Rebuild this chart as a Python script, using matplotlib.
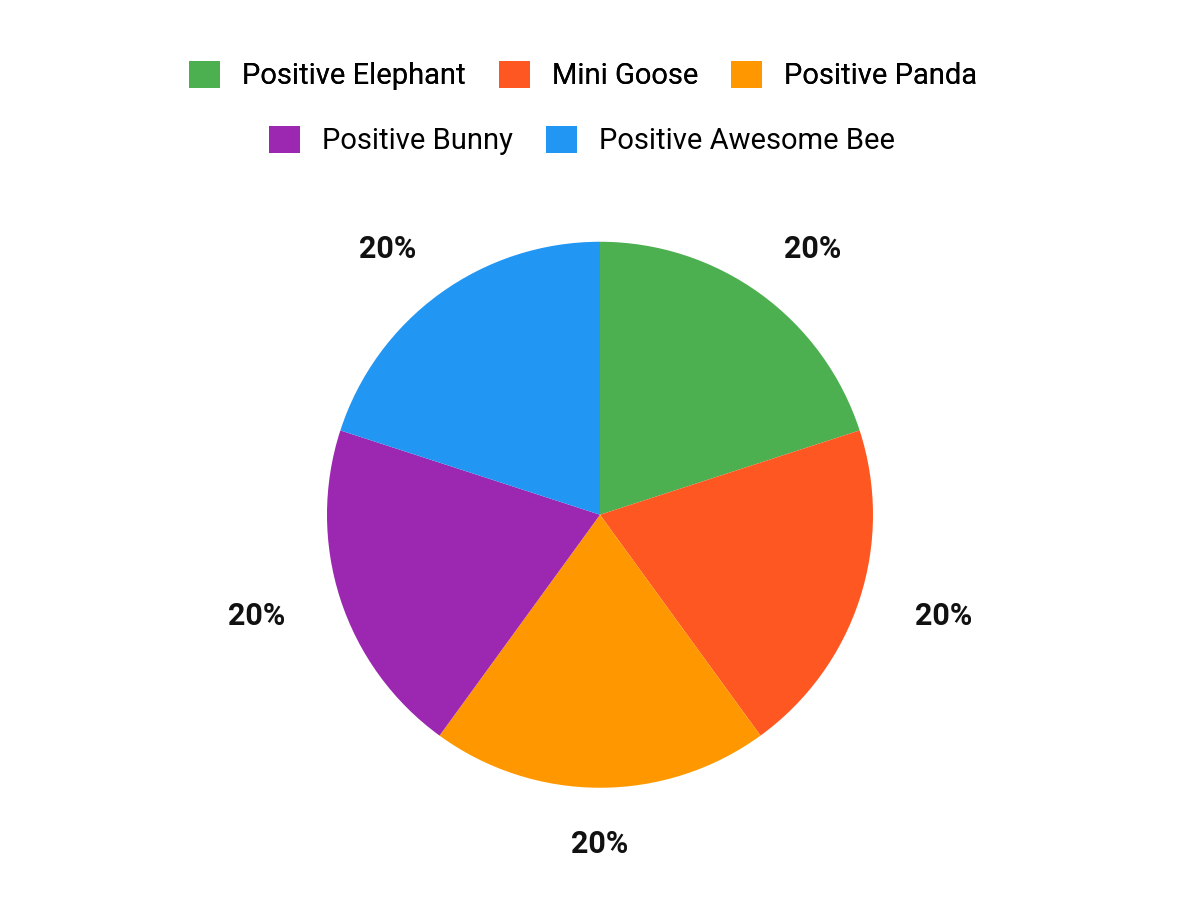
import numpy as np
import matplotlib.pyplot as plt

plt.rcParams['font.family'] = ['Roboto', 'DejaVu Sans']

labels = ["Positive Elephant", "Mini Goose", "Positive Panda",
          "Positive Bunny", "Positive Awesome Bee"]
values = [20, 20, 20, 20, 20]
colors = ["#4CAF50", "#FF5722", "#FF9800", "#9C27B0", "#2196F3"]

fig = plt.figure(figsize=(12, 9), dpi=100)
ax = fig.add_axes([0.5 - 0.2275, 0.428 - 0.3033, 0.455, 0.6067])

wedges, texts, autotexts = ax.pie(
    values, colors=colors, startangle=90, counterclock=False,
    autopct="%d%%", pctdistance=1.25, radius=1,
    wedgeprops=dict(linewidth=0),
    textprops=dict(fontsize=22, fontweight="bold", color="#111111"),
)
ax.set_xlim(-1, 1)
ax.set_ylim(-1, 1)
ax.set_aspect("equal")

# labels sit just past the rim, offset by half the label box in x and y
for w, t in zip(wedges, autotexts):
    a = np.deg2rad((w.theta1 + w.theta2) / 2)
    t.set_position((1.322 * np.cos(a), 1.205 * np.sin(a)))
    t.set_ha("center")
    t.set_va("center")

common = dict(loc="center", frameon=False, fontsize=21, handlelength=1.05,
              handleheight=1.05, handletextpad=0.75, columnspacing=1.15)
leg1 = fig.legend(wedges[:3], labels[:3], bbox_to_anchor=(0.486, 0.916),
                  ncol=3, **common)
leg2 = fig.legend(wedges[3:], labels[3:], bbox_to_anchor=(0.485, 0.844),
                  ncol=2, **common)
fig.add_artist(leg1)

fig.savefig("out.png", dpi=100)
